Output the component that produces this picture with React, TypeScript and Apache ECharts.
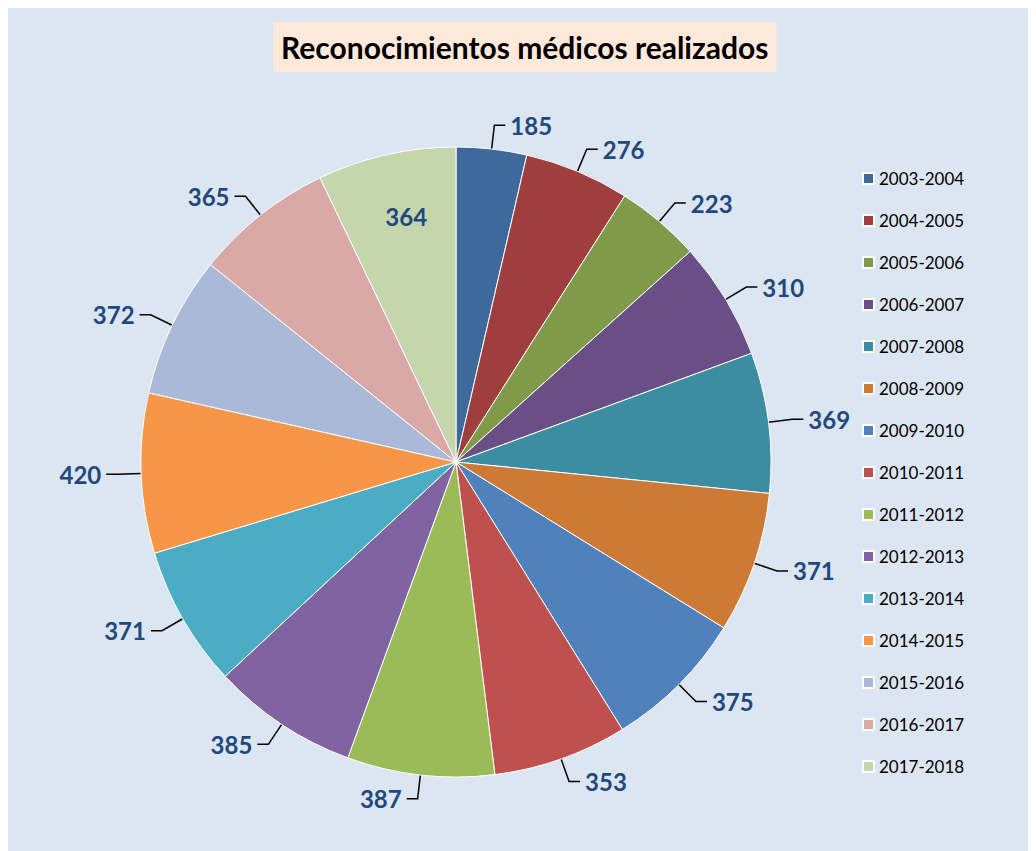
import React, { useEffect, useRef } from "react";
import * as echarts from "echarts";

const categories = [
  "2003-2004", "2004-2005", "2005-2006", "2006-2007", "2007-2008",
  "2008-2009", "2009-2010", "2010-2011", "2011-2012", "2012-2013",
  "2013-2014", "2014-2015", "2015-2016", "2016-2017", "2017-2018",
];
const values = [185, 276, 223, 310, 369, 371, 375, 353, 387, 385, 371, 420, 372, 365, 364];
const colors = [
  "#3E6A9B", "#9E3F3D", "#7F9B49", "#6A4F87", "#3C8CA2",
  "#CD7A37", "#4F81BD", "#C0504D", "#9BBB59", "#8064A2",
  "#4BACC6", "#F79646", "#A9B9D7", "#DAA8A7", "#C6D6AC",
];
const insideLabelIndex = 14;

const CX = 448;
const CY = 454;
const R = 315;

export default function App() {
  const ref = useRef<HTMLDivElement>(null);
  useEffect(() => {
    document.body.style.overflow = "hidden";
    const chart = echarts.init(ref.current!, null, { renderer: "svg" });
    const total = values.reduce((a, b) => a + b, 0);
    let cum = 0;
    const mids = values.map((v) => {
      const m = cum + v / 2;
      cum += v;
      return (m / total) * Math.PI * 2;
    });
    chart.setOption({
      animation: false,
      backgroundColor: "#DCE6F2",
      title: {
        text: "Reconocimientos médicos realizados",
        left: 265,
        top: 14,
        backgroundColor: "#FDE9D9",
        padding: [7, 8, 7, 8],
        textStyle: {
          fontFamily: "Lato",
          fontWeight: "bold",
          fontSize: 30,
          lineHeight: 36,
          color: "#000000",
        },
      },
      legend: {
        orient: "vertical",
        left: 849,
        top: 157,
        icon: "rect",
        itemWidth: 11,
        itemHeight: 11,
        itemGap: 25,
        itemTextGap: 5,
        data: categories,
        textStyle: {
          fontFamily: "Lato",
          fontSize: 17,
          lineHeight: 17,
          color: "#000000",
        },
      },
      series: [
        {
          type: "pie",
          center: [CX, CY],
          radius: R,
          startAngle: 90,
          clockwise: true,
          avoidLabelOverlap: false,
          itemStyle: { borderColor: "#FFFFFF", borderWidth: 1 },
          label: {
            show: true,
            position: "outside",
            formatter: "{c}",
            fontFamily: "Lato",
            fontWeight: "bold",
            fontSize: 24,
            color: "#1F497D",
            distanceToLabelLine: 5,
          },
          labelLine: {
            show: true,
            length: 24,
            length2: 11,
            lineStyle: { color: "#000000", width: 1.5 },
          },
          labelLayout: (params: any) => {
            if (params.dataIndex === insideLabelIndex) {
              const a = mids[insideLabelIndex];
              return {
                x: CX + Math.sin(a) * R * 0.8 + 6,
                y: CY - Math.cos(a) * R * 0.8,
                align: "center",
                verticalAlign: "middle",
              };
            }
            return {};
          },
          data: categories.map((name, i) => ({
            name,
            value: values[i],
            itemStyle: { color: colors[i] },
            labelLine: i === insideLabelIndex ? { show: false } : undefined,
          })),
        },
      ],
    });
    return () => chart.dispose();
  }, []);
  return <div ref={ref} style={{ width: 1028, height: 843 }} />;
}
